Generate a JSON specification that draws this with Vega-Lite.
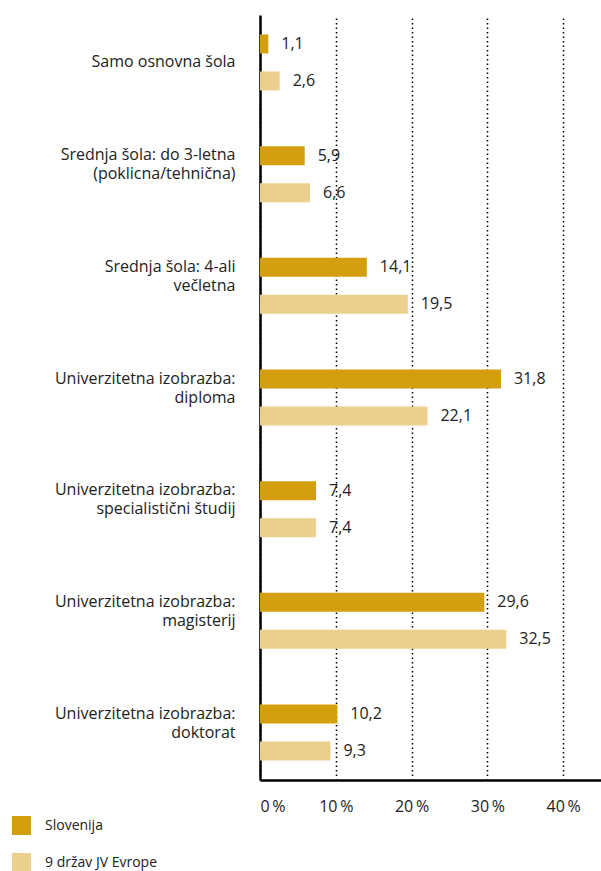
{
  "$schema": "https://vega.github.io/schema/vega-lite/v6.json",
  "autosize": "none",
  "padding": {"left": 260, "top": 15, "right": 0, "bottom": 91},
  "width": 341,
  "height": 765,
  "background": "white",
  "config": {
    "view": {"stroke": null},
    "font": "Open Sans",
    "text": {"font": "Open Sans"}
  },
  "data": {
    "values": [
      {"cat": "Samo osnovna šola", "group": "Slovenija", "value": 1.1},
      {"cat": "Samo osnovna šola", "group": "9 držav JV Evrope", "value": 2.6},
      {"cat": "Srednja šola: do 3-letna|(poklicna/tehnična)", "group": "Slovenija", "value": 5.9},
      {"cat": "Srednja šola: do 3-letna|(poklicna/tehnična)", "group": "9 držav JV Evrope", "value": 6.6},
      {"cat": "Srednja šola: 4-ali|večletna", "group": "Slovenija", "value": 14.1},
      {"cat": "Srednja šola: 4-ali|večletna", "group": "9 držav JV Evrope", "value": 19.5},
      {"cat": "Univerzitetna izobrazba:|diploma", "group": "Slovenija", "value": 31.8},
      {"cat": "Univerzitetna izobrazba:|diploma", "group": "9 držav JV Evrope", "value": 22.1},
      {"cat": "Univerzitetna izobrazba:|specialistični študij", "group": "Slovenija", "value": 7.4},
      {"cat": "Univerzitetna izobrazba:|specialistični študij", "group": "9 držav JV Evrope", "value": 7.4},
      {"cat": "Univerzitetna izobrazba:|magisterij", "group": "Slovenija", "value": 29.6},
      {"cat": "Univerzitetna izobrazba:|magisterij", "group": "9 držav JV Evrope", "value": 32.5},
      {"cat": "Univerzitetna izobrazba:|doktorat", "group": "Slovenija", "value": 10.2},
      {"cat": "Univerzitetna izobrazba:|doktorat", "group": "9 držav JV Evrope", "value": 9.3}
    ]
  },
  "transform": [
    {"calculate": "replace(format(datum.value, '.1f'), '.', ',')", "as": "label"}
  ],
  "encoding": {
    "y": {
      "field": "cat",
      "type": "nominal",
      "sort": null,
      "scale": {"paddingInner": 0.15, "paddingOuter": 0},
      "axis": {
        "title": null,
        "labelExpr": "split(datum.label, '|')",
        "labelAlign": "right",
        "labelBaseline": "middle",
        "labelOffset": {"condition": {"test": "indexof(datum.value, '|') >= 0", "value": -19}, "value": 0},
        "labelPadding": 25,
        "labelFontSize": 16,
        "labelColor": "#222222",
        "labelLineHeight": 19,
        "labelLimit": 0,
        "ticks": false,
        "domain": true,
        "domainColor": "#000000",
        "domainWidth": 2.5,
        "grid": false
      }
    },
    "yOffset": {
      "field": "group",
      "type": "nominal",
      "sort": ["Slovenija", "9 držav JV Evrope"],
      "scale": {"paddingInner": 0.486, "paddingOuter": 0.526}
    },
    "x": {
      "field": "value",
      "type": "quantitative",
      "scale": {"domain": [0, 45], "nice": false},
      "axis": {
        "title": null,
        "values": [0, 10, 20, 30, 40],
        "labelExpr": "datum.value + '\u2009%'",
        "labelFontSize": 16,
        "labelColor": "#222222",
        "labelPadding": 18,
        "ticks": false,
        "domain": true,
        "domainColor": "#000000",
        "domainWidth": 2.5,
        "grid": true,
        "gridColor": "#000000",
        "gridWidth": 1.5,
        "gridDash": [1.5, 3]
      }
    }
  },
  "layer": [
    {
      "mark": {"type": "bar"},
      "encoding": {
        "color": {
          "field": "group",
          "type": "nominal",
          "scale": {"domain": ["Slovenija", "9 držav JV Evrope"], "range": ["#D49F0E", "#EAD08C"]},
          "legend": {
            "title": null,
            "orient": "none",
            "legendX": -248,
            "legendY": 801,
            "symbolType": "square",
            "symbolSize": 361,
            "symbolStrokeWidth": 0,
            "rowPadding": 18,
            "labelOffset": 14,
            "labelFontSize": 14,
            "labelColor": "#222222"
          }
        }
      }
    },
    {
      "mark": {"type": "text", "align": "left", "baseline": "middle", "dx": 13, "fontSize": 16, "color": "#222222"},
      "encoding": {"text": {"field": "label", "type": "nominal"}}
    }
  ]
}
